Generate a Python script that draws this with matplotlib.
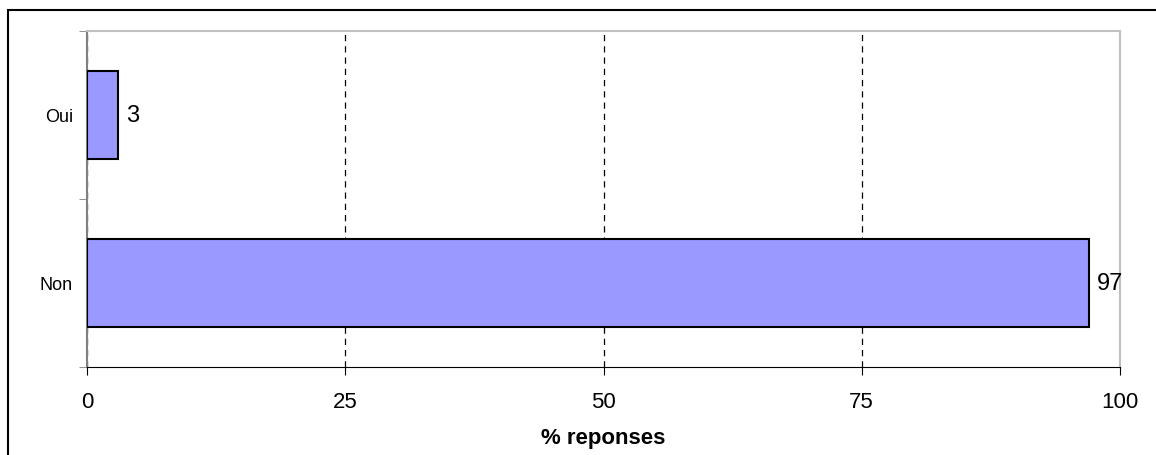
import matplotlib.pyplot as plt
from matplotlib.patches import Rectangle

# donnees
categories = ["Non", "Oui"]
valeurs = [97, 3]
ticks_x = [0, 25, 50, 75, 100]

plt.rcParams['font.family'] = ['Liberation Sans', 'DejaVu Sans']

fig = plt.figure(figsize=(11.56, 4.56), dpi=100)
ax = fig.add_axes([87/1156, 1 - 368/456, (1120 - 87)/1156, (368 - 32)/456])

# cadre exterieur
fig.patches.append(Rectangle((8/1156, -0.2), 1.2, 1.2 - 11/456,
                             transform=fig.transFigure, fill=False,
                             edgecolor='black', linewidth=1.5, clip_on=False))

pos = list(range(len(categories)))
ax.barh(pos, valeurs, height=0.52, color='#9999FF',
        edgecolor='black', linewidth=1.5, zorder=3)
for p, v in zip(pos, valeurs):
    ax.text(v + 0.8, p, str(v), va='center', ha='left', fontsize=17)

ax.set_xlim(0, 100)
ax.set_ylim(-0.5, len(categories) - 0.5)
ax.set_xticks(ticks_x)
ax.set_xticklabels([str(t) for t in ticks_x], fontsize=16)
ax.set_yticks(pos)
ax.set_yticklabels(categories, fontsize=13)
ax.tick_params(axis='y', length=0, pad=10)
ax.set_yticks([-0.5, 0.5, 1.5], minor=True)
ax.tick_params(axis='y', which='minor', length=6, color='#808080')
ax.tick_params(axis='x', length=6, pad=11, color='black')

ax.xaxis.grid(True, linestyle=(0, (5, 4)), color='black', linewidth=0.9)
ax.set_axisbelow(True)

ax.spines['left'].set_color('#808080')
ax.spines['left'].set_linewidth(1.5)
ax.spines['bottom'].set_color('black')
ax.spines['top'].set_color('#C0C0C0')
ax.spines['right'].set_color('#C0C0C0')
ax.spines['top'].set_linewidth(1.5)
ax.spines['right'].set_linewidth(1.5)

ax.set_xlabel('% reponses', fontsize=16, fontweight='bold', labelpad=11)

fig.savefig('out.png', dpi=100)
